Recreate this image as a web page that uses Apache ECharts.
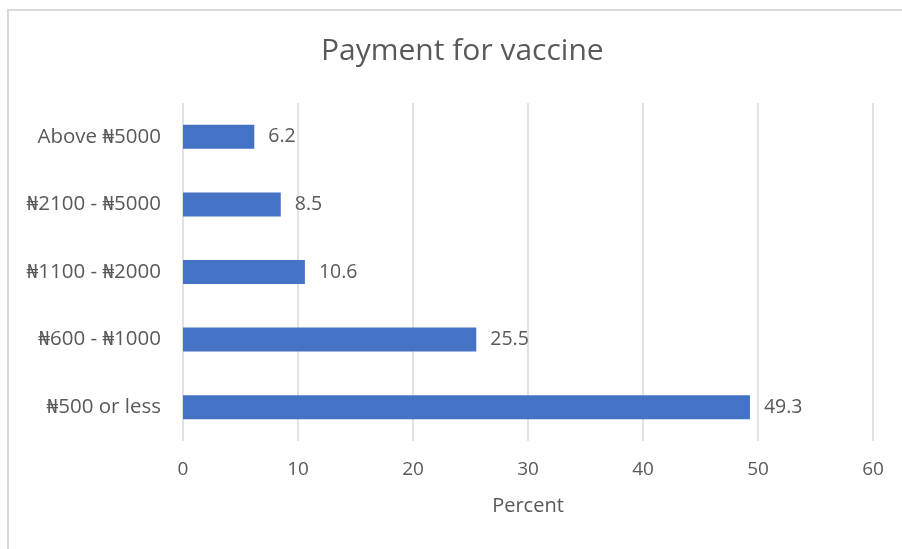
<!DOCTYPE html>
<html>
<head>
<meta charset="utf-8">
<script src="https://cdn.jsdelivr.net/npm/echarts@6/dist/echarts.min.js"></script>
<style>
  html, body { margin: 0; padding: 0; background: #fff; }
  #frame { position: absolute; left: 7px; top: 9px; width: 905px; height: 560px; border: 2px solid #d9d9d9; box-sizing: border-box; }
  #chart { position: absolute; left: 0; top: 0; width: 902px; height: 549px; }
</style>
</head>
<body>
<div id="frame"></div>
<div id="chart"></div>
<script>
// 数据
const categories = ['₦500 or less', '₦600 - ₦1000', '₦1100 - ₦2000', '₦2100 - ₦5000', 'Above ₦5000']
const percents = [49.3, 25.5, 10.6, 8.5, 6.2]
const xTicks = [0, 10, 20, 30, 40, 50, 60]

const fontStack = '"Open Sans", "Noto Sans", "DejaVu Sans", sans-serif'
const textColor = '#595959'

const chart = echarts.init(document.getElementById('chart'))

const option = {
  animation: false,
  textStyle: { fontFamily: fontStack },
  title: {
    text: 'Payment for vaccine',
    left: 316,
    top: 31,
    textStyle: { color: textColor, fontSize: 30, fontWeight: 'normal', fontFamily: fontStack }
  },
  grid: { left: 183, right: 29, top: 103, bottom: 108 },
  xAxis: {
    type: 'value',
    min: xTicks[0],
    max: xTicks[xTicks.length - 1],
    interval: 10,
    name: 'Percent',
    nameLocation: 'middle',
    nameGap: 55,
    nameTextStyle: { color: textColor, fontSize: 20 },
    axisLine: { show: false },
    axisTick: { show: false },
    axisLabel: { color: textColor, fontSize: 19, margin: 19 },
    splitLine: { lineStyle: { color: '#d9d9d9', width: 1.5 } }
  },
  yAxis: {
    type: 'category',
    data: categories,
    axisLine: { show: false },
    axisTick: { show: false },
    axisLabel: { color: textColor, fontSize: 20.5, margin: 22 }
  },
  series: [
    {
      type: 'bar',
      data: percents,
      barWidth: 24,
      itemStyle: { color: '#4472c4' },
      label: {
        show: true,
        position: 'right',
        distance: 14,
        color: textColor,
        fontSize: 19.5
      }
    }
  ]
}

chart.setOption(option)
</script>
</body>
</html>
